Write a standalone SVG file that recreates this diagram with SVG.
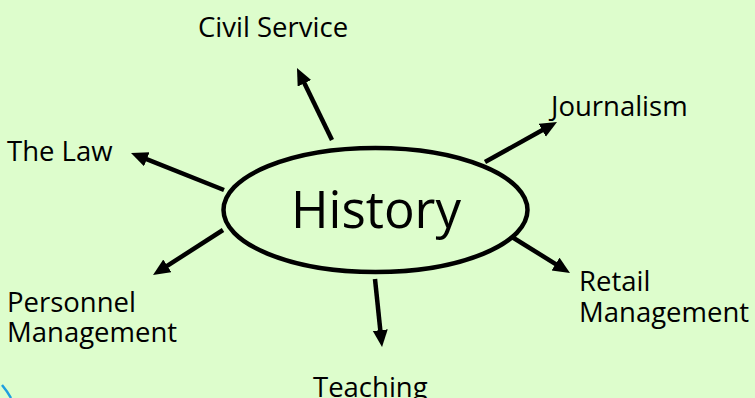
<svg xmlns="http://www.w3.org/2000/svg" width="755" height="398" viewBox="0 0 755 398">
  <style>
    .lbl { font-family: "Open Sans", "Liberation Sans", sans-serif; font-size: 27.5px; fill: #000; }
    .big { font-family: "Open Sans", "Liberation Sans", sans-serif; font-size: 51px; fill: #000; text-anchor: middle; }
    .conn { stroke: #000; stroke-width: 4.5; fill: none; marker-end: url(#ah); }
  </style>
  <defs>
    <marker id="ah" markerUnits="userSpaceOnUse" markerWidth="18" markerHeight="16" refX="3" refY="7.5" orient="auto">
      <path d="M0,0 L17,7.5 L0,15 z" fill="#000"/>
    </marker>
  </defs>
  <rect x="0" y="0" width="755" height="398" fill="#ddfdcc"/>
  <path d="M2,385 Q7,391 11,398" stroke="#1e9fe0" stroke-width="2.5" fill="none"/>
  <g id="connectors">
    <line class="conn" x1="332" y1="140" x2="303.1" y2="80.6"/>
    <line class="conn" x1="485" y1="162" x2="544.8" y2="128.8"/>
    <line class="conn" x1="224" y1="190" x2="144" y2="158.2"/>
    <line class="conn" x1="223" y1="230" x2="164.8" y2="267.4"/>
    <line class="conn" x1="512" y1="237" x2="558.1" y2="265.6"/>
    <line class="conn" x1="375" y1="279" x2="380.6" y2="333.1"/>
  </g>
  <g id="history">
    <ellipse cx="375.5" cy="210" rx="152" ry="62" fill="none" stroke="#000" stroke-width="4.5"/>
    <text class="big" x="376" y="228">History</text>
  </g>
  <g id="civil-service"><text class="lbl" x="198" y="37">Civil Service</text></g>
  <g id="journalism"><text class="lbl" x="551" y="116">Journalism</text></g>
  <g id="the-law"><text class="lbl" x="7" y="161">The Law</text></g>
  <g id="personnel-management">
    <text class="lbl" x="7" y="312"><tspan x="7" y="312">Personnel</tspan><tspan x="7" y="342">Management</tspan></text>
  </g>
  <g id="retail-management">
    <text class="lbl" x="579" y="291"><tspan x="579" y="291">Retail</tspan><tspan x="579" y="322">Management</tspan></text>
  </g>
  <g id="teaching"><text class="lbl" x="313" y="397">Teaching</text></g>
</svg>
